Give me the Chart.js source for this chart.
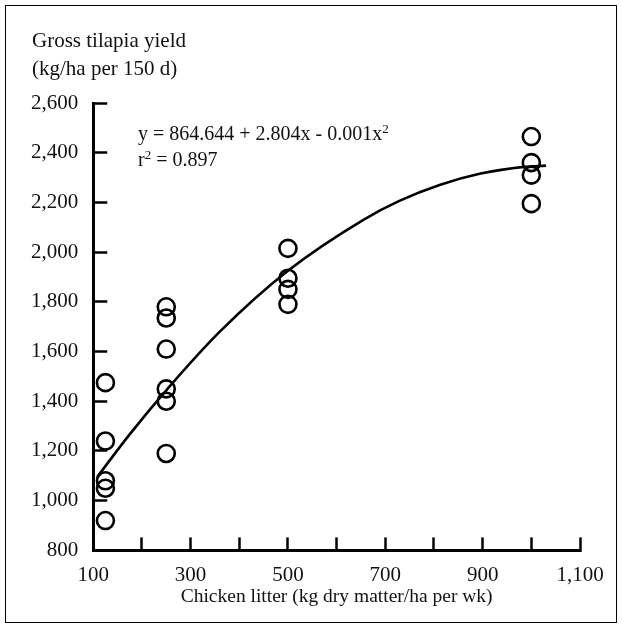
<!DOCTYPE html>
<html>
<head>
<meta charset="utf-8">
<script src="https://cdn.jsdelivr.net/npm/chart.js@4.4.1/dist/chart.umd.min.js"></script>
<style>
    html, body { margin: 0; padding: 0; background: #fff; }
    #wrap { position: relative; width: 622px; height: 629px; }
    #frame { position: absolute; left: 5px; top: 5px; width: 610px; height: 616px; border: 1.5px solid #000; }
    canvas { position: absolute; left: 0; top: 0; }
    .txt { position: absolute; font-family: "Liberation Serif", "Times New Roman", serif; color: #111; white-space: nowrap; }
    #ytitle { left: 32px; top: 26px; font-size: 21px; line-height: 28px; }
    #eq { left: 138px; top: 120px; font-size: 20px; line-height: 26px; }
    sup { font-size: 13px; vertical-align: 7px; line-height: 0; }
</style>
</head>
<body>
<div id="wrap">
    <div id="frame"></div>
    <canvas id="chart" width="622" height="629"></canvas>
    <div class="txt" id="ytitle">Gross tilapia yield<br>(kg/ha per 150 d)</div>
    <div class="txt" id="eq">y = 864.644 + 2.804x - 0.001x<sup>2</sup><br>r<sup>2</sup> = 0.897</div>
</div>
<script>
// Observed yields per litter rate
const litterRates = [125, 250, 500, 1000];
const yield125 = [1475, 1240, 1080, 1050, 920];
const yield250 = [1780, 1735, 1610, 1450, 1400, 1190];
const yield500 = [2015, 1895, 1850, 1790];
const yield1000 = [2465, 2360, 2310, 2195];

// Fitted curve as drawn in the figure
const curveX = [108, 174, 257, 360, 500, 655, 730, 813, 896, 985, 1030];
const curveY = [1095, 1265, 1460, 1680, 1925, 2130, 2207, 2271, 2316, 2343, 2348];

const xTicks = [100, 200, 300, 400, 500, 600, 700, 800, 900, 1000, 1100];
const yTicks = [800, 1000, 1200, 1400, 1600, 1800, 2000, 2200, 2400, 2600];

const groups = [yield125, yield250, yield500, yield1000];
const obsPoints = [];
groups.forEach((vals, i) => {
    vals.forEach(v => obsPoints.push({ x: litterRates[i], y: v }));
});
const curvePoints = curveX.map((x, i) => ({ x: x, y: curveY[i] }));

const serif = '"Liberation Serif", "Times New Roman", serif';

new Chart(document.getElementById('chart').getContext('2d'), {
    type: 'scatter',
    data: {
        datasets: [{
            label: 'Observed',
            data: obsPoints,
            pointRadius: 8.5,
            pointHoverRadius: 8.5,
            pointBorderWidth: 2.6,
            pointBorderColor: '#000',
            pointBackgroundColor: 'rgba(0,0,0,0)',
            showLine: false
        }, {
            label: 'Fit',
            data: curvePoints,
            showLine: true,
            borderColor: '#000',
            borderWidth: 2.6,
            pointRadius: 0,
            cubicInterpolationMode: 'monotone',
            fill: false
        }]
    },
    options: {
        responsive: false,
        animation: false,
        devicePixelRatio: 1,
        layout: {
            padding: { left: 2, top: 103, right: 42, bottom: 20 }
        },
        plugins: {
            legend: { display: false },
            tooltip: { enabled: false }
        },
        scales: {
            x: {
                type: 'linear',
                min: 100,
                max: 1100,
                afterBuildTicks: axis => { axis.ticks = xTicks.map(v => ({ value: v })); },
                afterFit: axis => { axis.paddingRight = 0; axis.paddingLeft = 0; },
                border: { display: true, color: '#000', width: 3 },
                grid: {
                    drawOnChartArea: false,
                    drawTicks: true,
                    tickLength: -13,
                    tickWidth: 2.5,
                    tickColor: '#000'
                },
                ticks: {
                    padding: 25,
                    color: '#111',
                    font: { family: serif, size: 21 },
                    maxRotation: 0,
                    autoSkip: false,
                    callback: v => ((v - 100) % 200 === 0 ? v.toLocaleString('en-US') : '')
                },
                title: {
                    display: true,
                    text: 'Chicken litter (kg dry matter/ha per wk)',
                    color: '#111',
                    font: { family: serif, size: 19.5 },
                    padding: { top: -27, bottom: 0 }
                }
            },
            y: {
                type: 'linear',
                min: 800,
                max: 2600,
                afterBuildTicks: axis => { axis.ticks = yTicks.map(v => ({ value: v })); },
                border: { display: true, color: '#000', width: 3 },
                grid: {
                    drawOnChartArea: false,
                    drawTicks: true,
                    tickLength: -14,
                    tickWidth: 2.5,
                    tickColor: '#000'
                },
                ticks: {
                    padding: 29,
                    color: '#111',
                    font: { family: serif, size: 21 },
                    autoSkip: false,
                    callback: v => v.toLocaleString('en-US')
                }
            }
        }
    }
});
</script>
</body>
</html>
